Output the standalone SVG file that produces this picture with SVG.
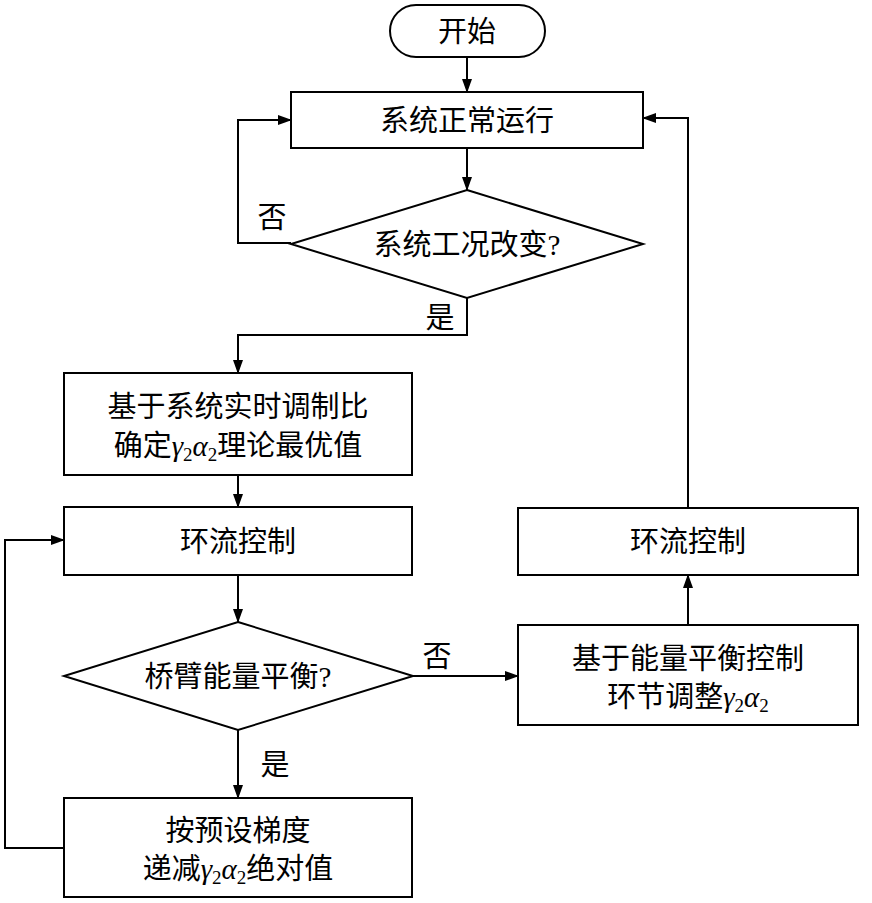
<svg xmlns="http://www.w3.org/2000/svg" width="872" height="903" viewBox="0 0 872 903">
<style>
.s{fill:#fff;stroke:#000;stroke-width:2}
.l{fill:none;stroke:#000;stroke-width:2}
text{font-family:"Liberation Serif","Noto Sans CJK SC",serif;font-size:29px;text-anchor:middle;dominant-baseline:central}
.g{font-style:italic}
.sub{font-size:19px;font-style:normal}
</style>
<defs><marker id="a" markerWidth="14" markerHeight="10" refX="13" refY="5" orient="auto" markerUnits="userSpaceOnUse"><path d="M0,0L14,5L0,10z"/></marker></defs>
<g id="connectors">
<path class="l" d="M467,57V92" marker-end="url(#a)"/>
<path class="l" d="M467,148V190" marker-end="url(#a)"/>
<path class="l" d="M291,243H238V120H291" marker-end="url(#a)"/>
<path class="l" d="M467,298V335H238V373" marker-end="url(#a)"/>
<path class="l" d="M238,475V507" marker-end="url(#a)"/>
<path class="l" d="M238,575V622" marker-end="url(#a)"/>
<path class="l" d="M413,676H518" marker-end="url(#a)"/>
<path class="l" d="M688,625V575" marker-end="url(#a)"/>
<path class="l" d="M688,508V118H643" marker-end="url(#a)"/>
<path class="l" d="M238,730V798" marker-end="url(#a)"/>
<path class="l" d="M64,848H5V540H64" marker-end="url(#a)"/>
<text x="272" y="218">否</text>
<text x="440" y="318">是</text>
<text x="437" y="657">否</text>
<text x="275" y="765">是</text>
</g>
<g id="start"><rect class="s" x="390" y="5" width="155" height="52" rx="26"/><text x="467" y="32">开始</text></g>
<g id="run"><rect class="s" x="291" y="92" width="352" height="56"/><text x="467" y="121">系统正常运行</text></g>
<g id="d1"><path class="s" d="M467,190L643,244L467,298L291,244z"/><text x="467" y="245">系统工况改变?</text></g>
<g id="calc"><rect class="s" x="64" y="373" width="348" height="102"/><text x="238" y="407">基于系统实时调制比</text><text x="238" y="446">确定<tspan class="g">γ</tspan><tspan class="sub" dy="8">2</tspan><tspan class="g" dy="-8">α</tspan><tspan class="sub" dy="8">2</tspan><tspan dy="-8">理论最优值</tspan></text></g>
<g id="cc1"><rect class="s" x="64" y="507" width="348" height="68"/><text x="238" y="542">环流控制</text></g>
<g id="d2"><path class="s" d="M238,622L413,676L238,730L64,676z"/><text x="238" y="677">桥臂能量平衡?</text></g>
<g id="adj"><rect class="s" x="518" y="625" width="340" height="100"/><text x="688" y="659">基于能量平衡控制</text><text x="688" y="697">环节调整<tspan class="g">γ</tspan><tspan class="sub" dy="8">2</tspan><tspan class="g" dy="-8">α</tspan><tspan class="sub" dy="8">2</tspan></text></g>
<g id="cc2"><rect class="s" x="518" y="508" width="340" height="67"/><text x="688" y="542">环流控制</text></g>
<g id="dec"><rect class="s" x="64" y="798" width="348" height="99"/><text x="238" y="831">按预设梯度</text><text x="238" y="869">递减<tspan class="g">γ</tspan><tspan class="sub" dy="8">2</tspan><tspan class="g" dy="-8">α</tspan><tspan class="sub" dy="8">2</tspan><tspan dy="-8">绝对值</tspan></text></g>
</svg>
